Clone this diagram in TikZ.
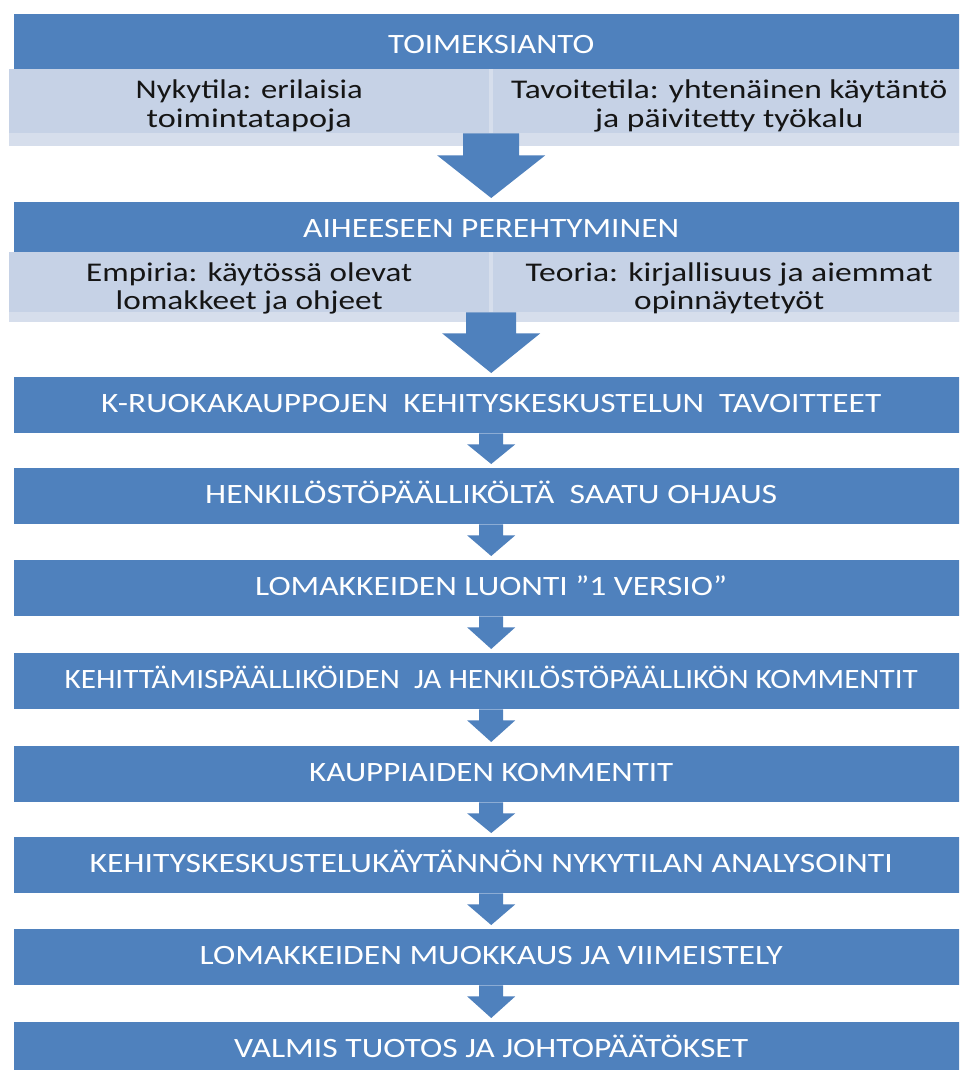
\documentclass[tikz,border=0pt]{standalone}
\usepackage{fontspec}
\setmainfont{Carlito}
\usetikzlibrary{calc}

\definecolor{stepblue}{HTML}{4F81BD}
\definecolor{bandfill}{HTML}{C6D2E6}
\definecolor{bandlight}{HTML}{D6DEEC}
\definecolor{inktext}{HTML}{151515}

% one line of text, stretched or condensed to a given width (in pt)
\newcommand\fitline[2]{\resizebox{#1pt}{\height}{#2}}

% block arrow from the bottom of #1 down to just above #2
% #3 = shaft half width, #4 = head half width, #5 = shaft length, #6 = start offset
\newcommand\flowarrow[6]{%
  \fill[stepblue]
    ($(#1.south -| #2.north)+(-#3,-#6)$) -- ($(#1.south -| #2.north)+(-#3,#5)$)
    -- ($(#1.south -| #2.north)+(-#4,#5)$) -- ($(#2.north)+(0,-4)$)
    -- ($(#1.south -| #2.north)+(#4,#5)$) -- ($(#1.south -| #2.north)+(#3,#5)$)
    -- ($(#1.south -| #2.north)+(#3,-#6)$) -- cycle;}

\tikzset{
  stepbox/.style={fill=stepblue, draw=none, inner sep=0pt, anchor=north west,
    minimum width=954pt, minimum height=56pt, text=white, text height=14pt,
    text depth=0pt, font=\fontsize{28}{30}\selectfont},
  titlebox/.style={stepbox, minimum height=55pt},
  bandbox/.style={fill=bandlight, draw=none, inner sep=0pt, anchor=north west},
  subbox/.style={fill=bandfill, draw=none, inner sep=0pt, anchor=north west},
  strip/.style={fill=bandlight, draw=none},
  subline/.style={anchor=base, inner sep=0pt, text=inktext,
    font=\fontsize{27}{28}\selectfont},
}

\begin{document}
\begin{tikzpicture}[x=1pt, y=-1pt]
\clip (0,0) rectangle (959,1070);
\fill[white] (0,0) rectangle (959,1070);

% ---- assignment ----
\node[titlebox, text height=23pt] (toim) at (14,14) {\fitline{206}{TOIMEKSIANTO}};
\node[bandbox, minimum width=956pt, minimum height=77pt] (band1) at (9,69) {};
\node[subbox, minimum width=480pt, minimum height=64pt] (nyky) at (9,69) {};
\node[subbox, minimum width=472pt, minimum height=64pt] (tavo) at (493,69) {};
\fill[strip] (14,133) rectangle (463,146);
\fill[strip] (520,133) rectangle (965,146);
\node[subline] (nyky1) at ($(nyky.north)+(0,30)$) {\fitline{227}{Nykytila: erilaisia}};
\node[subline] (nyky2) at ($(nyky.north)+(0,58)$) {\fitline{205}{toimintatapoja}};
\node[subline] (tavo1) at ($(tavo.north)+(0,30)$) {\fitline{436}{Tavoitetila: yhtenäinen käytäntö}};
\node[subline] (tavo2) at ($(tavo.north)+(0,58)$) {\fitline{268}{ja päivitetty työkalu}};

% ---- familiarisation ----
\node[titlebox, minimum height=50pt, text height=20pt] (aihe) at (14,202) {\fitline{376}{AIHEESEEN PEREHTYMINEN}};
\node[bandbox, minimum width=956pt, minimum height=70pt] (band2) at (9,252) {};
\node[subbox, minimum width=480pt, minimum height=60pt] (empi) at (9,252) {};
\node[subbox, minimum width=472pt, minimum height=60pt] (teor) at (493,252) {};
\fill[strip] (14,312) rectangle (467,322);
\fill[strip] (517,312) rectangle (965,322);
\node[subline] (empi1) at ($(empi.north)+(0,29)$) {\fitline{326}{Empiria: käytössä olevat}};
\node[subline] (empi2) at ($(empi.north)+(0,57)$) {\fitline{267}{lomakkeet ja ohjeet}};
\node[subline] (teor1) at ($(teor.north)+(0,29)$) {\fitline{407}{Teoria: kirjallisuus ja aiemmat}};
\node[subline] (teor2) at ($(teor.north)+(0,57)$) {\fitline{190}{opinnäytetyöt}};

% ---- process steps ----
\node[stepbox] (s1) at (14,377)  {\fitline{780}{K-RUOKAKAUPPOJEN\ \ KEHITYSKESKUSTELUN\ \ TAVOITTEET}};
\node[stepbox] (s2) at (14,468)  {\fitline{572}{HENKILÖSTÖPÄÄLLIKÖLTÄ\ \ SAATU OHJAUS}};
\node[stepbox] (s3) at (14,560)  {\fitline{472}{LOMAKKEIDEN LUONTI ”1 VERSIO”}};
\node[stepbox] (s4) at (14,653)  {\fitline{853}{KEHITTÄMISPÄÄLLIKÖIDEN\ \ JA HENKILÖSTÖPÄÄLLIKÖN KOMMENTIT}};
\node[stepbox] (s5) at (14,746)  {\fitline{364}{KAUPPIAIDEN KOMMENTIT}};
\node[stepbox] (s6) at (14,837)  {\fitline{803}{KEHITYSKESKUSTELUKÄYTÄNNÖN NYKYTILAN ANALYSOINTI}};
\node[stepbox] (s7) at (14,929)  {\fitline{583}{LOMAKKEIDEN MUOKKAUS JA VIIMEISTELY}};
\node[stepbox] (s8) at (14,1022) {\fitline{514}{VALMIS TUOTOS JA JOHTOPÄÄTÖKSET}};

% ---- arrows ----
\flowarrow{band1}{aihe}{28}{54}{9}{13}
\flowarrow{band2}{s1}{25}{49}{11}{10}
\flowarrow{s1}{s2}{12}{24}{11}{0}
\flowarrow{s2}{s3}{12}{24}{11}{0}
\flowarrow{s3}{s4}{12}{24}{11}{0}
\flowarrow{s4}{s5}{12}{24}{11}{0}
\flowarrow{s5}{s6}{12}{24}{11}{0}
\flowarrow{s6}{s7}{12}{24}{11}{0}
\flowarrow{s7}{s8}{12}{24}{11}{0}
\end{tikzpicture}
\end{document}
